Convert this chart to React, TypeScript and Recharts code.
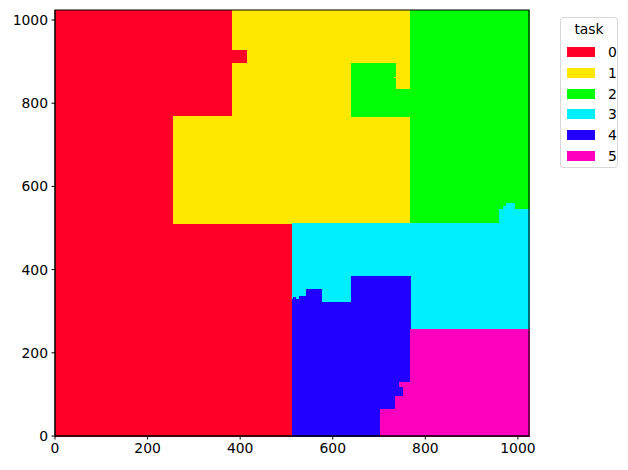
import React from 'react';
import { ComposedChart, Scatter, XAxis, YAxis, ReferenceArea } from 'recharts';

// task ids and their colours (gist_rainbow style)
const tasks = ['0', '1', '2', '3', '4', '5'];
const taskColors = ['#ff0029', '#ffe800', '#00ff04', '#00efff', '#2100ff', '#ff00bf'];

const ticks = [0, 200, 400, 600, 800, 1000];

// each cell: [x1, x2, y1, y2], painted in order task 0 -> 5
const task0Cells = [
  [0, 512, 0, 512],
  [0, 256, 512, 768],
  [0, 384, 768, 1024],
  [384, 416, 896, 928],
];
const task1Cells = [
  [256, 768, 512, 768],
  [416, 768, 768, 1024],
  [384, 416, 768, 896],
  [384, 416, 928, 1024],
];
const task2Cells = [
  [768, 1024, 512, 1024],
  [640, 732, 768, 896],
  [732, 736, 768, 860],
  [732, 736, 864, 896],
  [736, 768, 768, 832],
];
const task3Cells = [
  [512, 1024, 256, 512],
  [960, 1024, 512, 544],
  [968, 992, 544, 552],
  [976, 992, 552, 560],
];
const task4Cells = [
  [512, 528, 0, 328],
  [516, 520, 328, 332],
  [528, 544, 0, 336],
  [544, 576, 0, 352],
  [576, 640, 0, 320],
  [640, 768, 0, 384],
];
const task5Cells = [
  [704, 1024, 0, 64],
  [736, 1024, 64, 96],
  [752, 1024, 96, 120],
  [744, 1024, 120, 128],
  [768, 1024, 128, 256],
];

const cellsByTask = [task0Cells, task1Cells, task2Cells, task3Cells, task4Cells, task5Cells];

const corners = [
  { x: 0, y: 0 },
  { x: 1024, y: 1024 },
];

const font = '"DejaVu Sans", sans-serif';

function TaskLegend() {
  return (
    <div
      style={{
        position: 'absolute',
        left: 560,
        top: 17,
        width: 58,
        height: 151,
        boxSizing: 'border-box',
        border: '1px solid #d8d8d8',
        borderRadius: 3,
        background: '#fff',
        fontFamily: font,
        fontSize: 13.9,
        color: '#000',
      }}
    >
      <div style={{ position: 'absolute', top: 3, width: '100%', textAlign: 'center' }}>task</div>
      {tasks.map((t, i) => (
        <div key={t} style={{ position: 'absolute', left: 6, top: 26 + i * 20.8, height: 16, display: 'flex', alignItems: 'center' }}>
          <div style={{ width: 28, height: 10, background: taskColors[i] }} />
          <span style={{ marginLeft: 13 }}>{t}</span>
        </div>
      ))}
    </div>
  );
}

export default function App() {
  return (
    <div style={{ position: 'absolute', left: 0, top: 0, width: 628, height: 470, background: '#fff' }}>
      <ComposedChart width={628} height={470} margin={{ top: 10, right: 99, left: 0, bottom: 0 }}>
        <XAxis
          type="number"
          dataKey="x"
          domain={[0, 1024]}
          ticks={ticks}
          allowDataOverflow
          height={34}
          tickSize={3.5}
          tickMargin={3.5}
          stroke="#000"
          tick={{ fill: '#000', fontSize: 13.9, fontFamily: font }}
        />
        <YAxis
          type="number"
          dataKey="y"
          domain={[0, 1024]}
          ticks={ticks}
          allowDataOverflow
          width={55}
          tickSize={3.5}
          tickMargin={3.5}
          stroke="#000"
          tick={{ fill: '#000', fontSize: 13.9, fontFamily: font }}
        />
        {cellsByTask.map((cells, ti) =>
          cells.map(([x1, x2, y1, y2], ci) => (
            <ReferenceArea
              key={`${ti}-${ci}`}
              x1={x1}
              x2={x2}
              y1={y1}
              y2={y2}
              fill={taskColors[ti]}
              fillOpacity={1}
              stroke={taskColors[ti]}
              strokeWidth={1}
              shapeRendering="crispEdges"
              ifOverflow="visible"
            />
          ))
        )}
        <ReferenceArea x1={0} x2={1024} y1={0} y2={1024} fill="none" stroke="#000" strokeWidth={1.1} ifOverflow="visible" />
        <Scatter data={corners} fill="none" isAnimationActive={false} />
      </ComposedChart>
      <TaskLegend />
    </div>
  );
}
